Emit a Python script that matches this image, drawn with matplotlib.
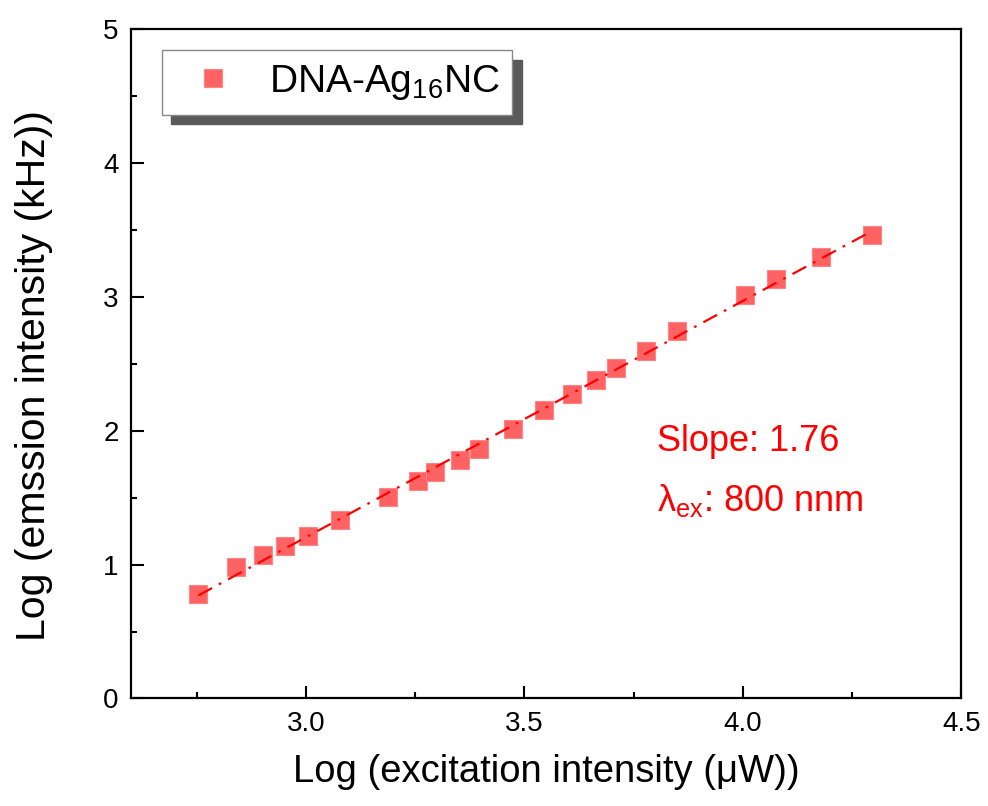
import numpy as np
import matplotlib
matplotlib.use('Agg')
import matplotlib.pyplot as plt

# data
log_exc = [2.754, 2.841, 2.902, 2.953, 3.006, 3.078, 3.187, 3.257, 3.296, 3.353, 3.396,
           3.474, 3.544, 3.609, 3.665, 3.710, 3.779, 3.849, 4.004, 4.075, 4.179, 4.296]
log_em = [0.777, 0.984, 1.071, 1.138, 1.213, 1.333, 1.502, 1.627, 1.694, 1.779, 1.866,
          2.016, 2.152, 2.277, 2.382, 2.466, 2.596, 2.745, 3.014, 3.137, 3.298, 3.460]
series_label = 'DNA-Ag$_{16}$NC'
slope_text = 'Slope: 1.76'
lambda_text = 'λ$_{\\mathrm{ex}}$: 800 nnm'

plt.rcParams['font.family'] = ['Liberation Sans', 'DejaVu Sans']
plt.rcParams['mathtext.fontset'] = 'custom'
plt.rcParams['mathtext.rm'] = 'Liberation Sans'
plt.rcParams['mathtext.it'] = 'Liberation Sans'
plt.rcParams['mathtext.bf'] = 'Liberation Sans:bold'

fig = plt.figure(figsize=(9.88, 8.06), dpi=100)
ax = fig.add_axes([0.1326, 0.1334, 0.8405, 0.8302])

x = np.array(log_exc)
y = np.array(log_em)
p = np.polyfit(x, y, 1)
xf = np.array([x.min(), x.max()])

ax.plot(x, y, 's', ms=13.5, mfc='#FF6262', mec='#FF8585', mew=0.8,
        label=series_label, zorder=2)
ax.plot(xf, np.polyval(p, xf), color='red', lw=1.6,
        linestyle=(0, (7, 3.5, 1.2, 3.5)), zorder=3)

ax.set_xlim(2.6, 4.5)
ax.set_ylim(0, 5)
ax.set_xticks([3.0, 3.5, 4.0, 4.5])
ax.set_xticks([2.75, 3.25, 3.75, 4.25], minor=True)
ax.set_yticks([0, 1, 2, 3, 4, 5])
ax.set_yticks([0.5, 1.5, 2.5, 3.5, 4.5], minor=True)
ax.set_xticklabels(['3.0', '3.5', '4.0', '4.5'])
ax.tick_params(which='both', direction='in', width=1.5, labelsize=20, pad=9)
ax.tick_params(which='major', length=9)
ax.tick_params(which='minor', length=4.5)
for s in ax.spines.values():
    s.set_linewidth(1.6)

ax.set_xlabel('Log (excitation intensity (μW))', fontsize=27.5, labelpad=12)
ax.set_ylabel('Log (emssion intensity (kHz))', fontsize=29.5)
ax.yaxis.set_label_coords(-0.094, 0.482)

ax.text(3.804, 1.848, slope_text, color='red', fontsize=26, va='baseline')
ax.text(3.804, 1.40, lambda_text, color='red', fontsize=26, va='baseline')

leg = ax.legend(loc='upper left', bbox_to_anchor=(0.037, 0.969), borderaxespad=0,
                fontsize=28, frameon=True, fancybox=False, borderpad=0.33,
                handlelength=2.0, handletextpad=0.42,
                shadow={'ox': 7, 'oy': -7, 'color': '#5a5a5a', 'alpha': 1})
leg.get_frame().set_edgecolor('#888888')
leg.get_frame().set_linewidth(1.0)
leg.get_frame().set_alpha(1)

plt.savefig('out.png', dpi=100)
